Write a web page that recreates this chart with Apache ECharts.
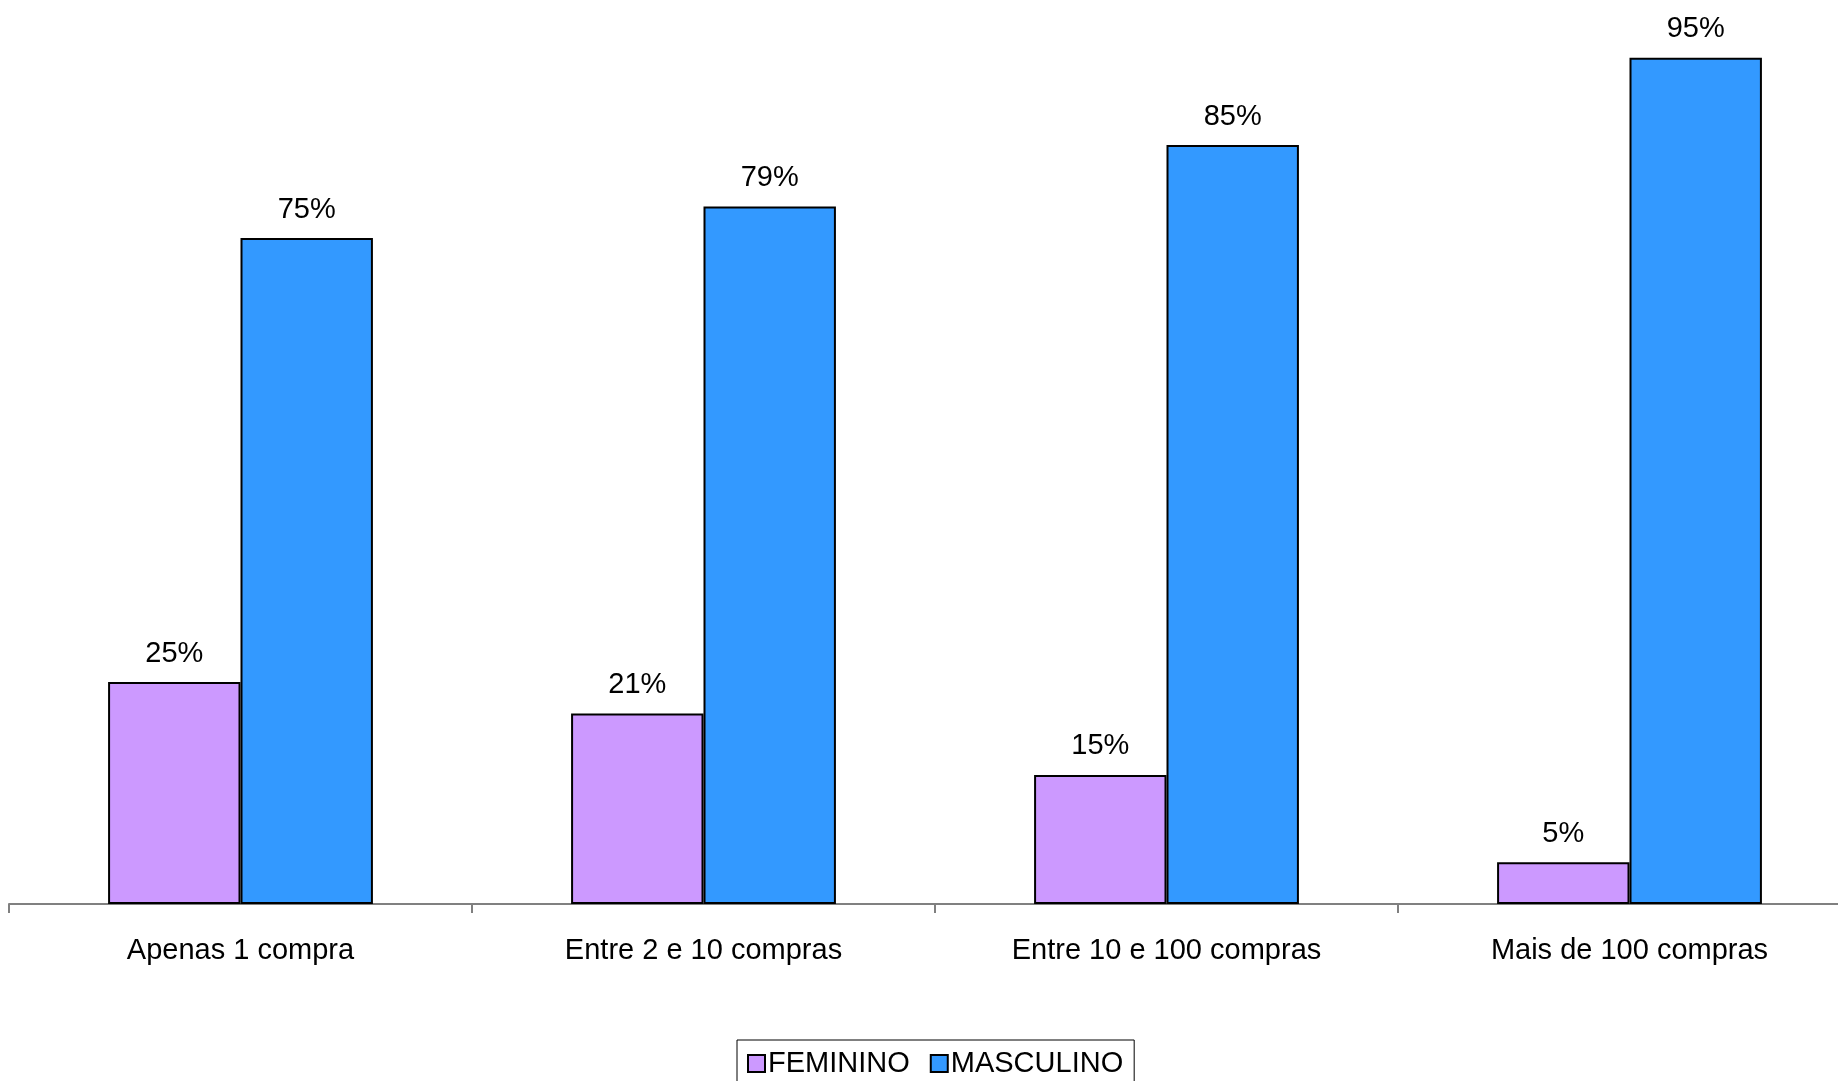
<!DOCTYPE html>
<html>
<head>
<meta charset="utf-8">
<script src="https://cdn.jsdelivr.net/npm/echarts@6/dist/echarts.min.js"></script>
<style>
html,body{margin:0;padding:0;background:#fff;overflow:hidden;width:1838px;height:1081px;}
#chart{width:1861px;height:1081px;}
</style>
</head>
<body>
<div id="chart"></div>
<script>
const categories = ['Apenas 1 compra', 'Entre 2 e 10 compras', 'Entre 10 e 100 compras', 'Mais de 100 compras'];
// bar heights (labels show them rounded)
const feminino = [25.0, 21.46, 14.53, 4.7];
const masculino = [75.0, 78.54, 85.47, 95.3];
const seriesNames = ['FEMININO', 'MASCULINO'];

const FONT = '"Liberation Sans", Arial, sans-serif';
const chart = echarts.init(document.getElementById('chart'), null, {renderer: 'canvas'});

const labelCfg = {
  show: true,
  position: 'top',
  distance: 14,
  formatter: p => Math.round(p.value) + '%',
  fontFamily: FONT,
  fontSize: 29,
  color: '#000'
};

chart.setOption({
  animation: false,
  backgroundColor: '#fff',
  grid: {left: 9, top: 16, right: 0, height: 888, containLabel: false},
  xAxis: {
    type: 'category',
    data: categories,
    axisLine: {show: true, lineStyle: {color: '#808080', width: 2}},
    axisTick: {show: true, alignWithLabel: false, length: 9, lineStyle: {color: '#808080', width: 2}},
    axisLabel: {fontFamily: FONT, fontSize: 29, color: '#000', margin: 32}
  },
  yAxis: {
    type: 'value',
    min: 0,
    max: 100,
    show: false,
    splitLine: {show: false}
  },
  legend: {
    data: seriesNames,
    left: 737,
    top: 1040,
    orient: 'horizontal',
    itemWidth: 17,
    itemHeight: 17,
    itemGap: 20,
    icon: 'rect',
    padding: [9, 11, 9, 10],
    borderColor: '#000',
    borderWidth: 1,
    textStyle: {fontFamily: FONT, fontSize: 29, color: '#000', padding: [0, 0, 0, -2]}
  },
  series: [
    {
      name: seriesNames[0],
      type: 'bar',
      data: feminino,
      barGap: '0%',
      barCategoryGap: '42.8%',
      itemStyle: {color: '#CC99FF', borderColor: '#000', borderWidth: 2},
      label: labelCfg
    },
    {
      name: seriesNames[1],
      type: 'bar',
      data: masculino,
      barGap: '0%',
      barCategoryGap: '42.8%',
      itemStyle: {color: '#3399FF', borderColor: '#000', borderWidth: 2},
      label: labelCfg
    }
  ]
});
</script>
</body>
</html>
